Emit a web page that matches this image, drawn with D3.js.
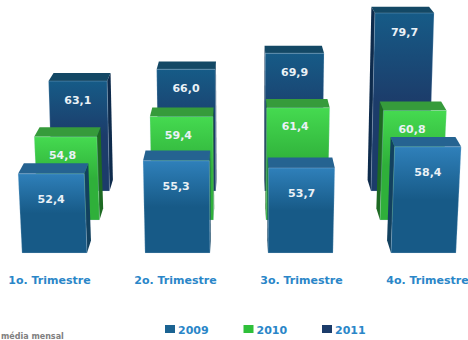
<!DOCTYPE html>
<html>
<head>
<meta charset="utf-8">
<script src="https://cdnjs.cloudflare.com/ajax/libs/d3/7.8.5/d3.min.js"></script>
<style>
  html, body { margin: 0; padding: 0; background: #fff; overflow: hidden; }
  svg { display: block; }
  text { font-family: "DejaVu Sans", sans-serif; font-weight: bold; }
</style>
</head>
<body>
<svg id="chart" width="468" height="340"></svg>
<script>
const quarters = ["1o. Trimestre", "2o. Trimestre", "3o. Trimestre", "4o. Trimestre"];
const years = ["2009", "2010", "2011"];
const values2009 = [52.4, 55.3, 53.7, 58.4];
const values2010 = [54.8, 59.4, 61.4, 60.8];
const values2011 = [63.1, 66.0, 69.9, 79.7];
const footnote = "média mensal";

// Camera: vanishing point of the depth axis, depth ratio, and how much verticals splay.
const vanishX = 240, vanishY = -230, depthRatio = 0.026;

// One row of bars per year, each row further from the viewer than the last.
const rows = [
  { year: "2009", values: values2009,
    x: d3.scaleLinear().domain([0, 3]).range([22, 391]), width: 65, splay: 4400,
    y: d3.scaleLinear().domain([34.8, 80]).range([253, 49.6]), labelDx: 0, labelDy: 25,
    stops: ["#2f80ba", "#175a87", "#175a87"], lid: "#256391", side: "#12415f" },
  { year: "2010", values: values2010,
    x: d3.scaleLinear().domain([0, 3]).range([38, 380]), width: 61.5, splay: 4400,
    y: d3.scaleLinear().domain([35.9, 80]).range([220, 26]), labelDx: -3, labelDy: 18.5,
    stops: ["#45da50", "#2fb03a", "#2fb03a"], lid: "#369b3b", side: "#1d6a22" },
  { year: "2011", values: values2011,
    x: d3.scaleLinear().domain([0, 3]).range([52, 371]), width: 57.5, splay: 6000,
    y: d3.scaleLinear().domain([36.3, 80]).range([191, 11.8]), labelDx: 0, labelDy: 19,
    stops: ["#165b87", "#1c3c6a", "#1c3c6a"], lid: "#134865", side: "#0e2b4c" }
];

const svg = d3.select("#chart");
const defs = svg.append("defs");

rows.forEach(r => {
  const g = defs.append("linearGradient")
    .attr("id", "front" + r.year)
    .attr("x1", 0).attr("y1", 0).attr("x2", 0).attr("y2", 1);
  [0, 0.5, 1].forEach((o, i) => g.append("stop").attr("offset", o).attr("stop-color", r.stops[i]));
});

const line = d3.line();
const toBack = ([x, y]) => [x + (vanishX - x) * depthRatio, y + (vanishY - y) * depthRatio];

// Rows are painted far to near so nearer bars cover the ones behind.
rows.slice().reverse().forEach(r => {
  const layer = svg.append("g").attr("class", "row-" + r.year);
  r.values.forEach((v, i) => {
    const base = r.y.range()[0];
    const top = r.y(v);
    const h = base - top;
    const xl = r.x(i), xr = xl + r.width;
    const lean = x => x + (x - vanishX) * h / r.splay;

    const fbl = [xl, base], fbr = [xr, base];
    const ftl = [lean(xl), top], ftr = [lean(xr), top];
    const bbl = toBack(fbl), bbr = toBack(fbr), btl = toBack(ftl), btr = toBack(ftr);

    const shape = pts => line(pts) + "Z";

    // Whichever side wall faces the viewer, then the lid, then the front face.
    if (btr[0] > ftr[0]) layer.append("path").attr("d", shape([ftr, btr, bbr, fbr])).attr("fill", r.side);
    if (btl[0] < ftl[0]) layer.append("path").attr("d", shape([ftl, btl, bbl, fbl])).attr("fill", r.side);
    layer.append("path").attr("d", shape([ftl, btl, btr, ftr])).attr("fill", r.lid);
    layer.append("path").attr("d", shape([ftl, ftr, fbr, fbl]))
      .attr("fill", `url(#front${r.year})`)
      .attr("stroke", "#cfe3f2").attr("stroke-opacity", 0.35).attr("stroke-width", 0.7);

    layer.append("text")
      .attr("x", (ftl[0] + ftr[0]) / 2 + r.labelDx)
      .attr("y", top + r.labelDy + 4)
      .attr("text-anchor", "middle")
      .attr("font-size", 11)
      .attr("fill", "#eaf1f6")
      .text(v.toFixed(1).replace(".", ","));
  });
});

// Quarter captions under the bars.
const xCaption = d3.scalePoint().domain(quarters).range([49.5, 427.5]);
svg.append("g").selectAll("text").data(quarters).join("text")
  .attr("x", d => xCaption(d))
  .attr("y", 284)
  .attr("text-anchor", "middle")
  .attr("font-size", 11)
  .attr("fill", "#2a86c8")
  .text(d => d);

// Legend along the bottom.
const xLegend = d3.scalePoint().domain(years).range([165, 322]);
const legend = svg.append("g").selectAll("g").data(rows).join("g")
  .attr("transform", d => `translate(${xLegend(d.year)},325)`);
legend.append("rect")
  .attr("width", 10).attr("height", 8)
  .attr("fill", d => d.year === "2010" ? "#2fc03a" : (d.year === "2009" ? "#1b6392" : "#1c3c6a"));
legend.append("text")
  .attr("x", 13).attr("y", 8.5)
  .attr("font-size", 11)
  .attr("fill", "#2a86c8")
  .text(d => d.year);

svg.append("text")
  .attr("x", 1).attr("y", 338.5)
  .attr("font-size", 8)
  .attr("fill", "#808080")
  .text(footnote);
</script>
</body>
</html>
